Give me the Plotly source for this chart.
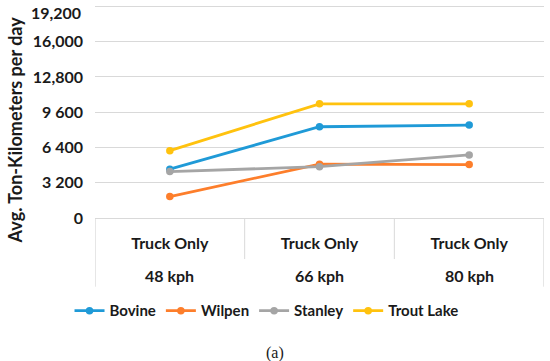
import plotly.graph_objects as go

speeds = ["48 kph", "66 kph", "80 kph"]
modes = ["Truck Only", "Truck Only", "Truck Only"]
series = {
    "Bovine": [4430, 8280, 8430],
    "Wilpen": [1950, 4880, 4850],
    "Stanley": [4210, 4660, 5720],
    "Trout Lake": [6110, 10360, 10360],
}
colors = {
    "Bovine": "#1f9ad7",
    "Wilpen": "#fd7e2b",
    "Stanley": "#a5a5a5",
    "Trout Lake": "#ffc20e",
}
yticks = [0, 3200, 6400, 9600, 12800, 16000, 19200]
yticklabels = ["0", "3 200", "6 400", "9 600", "12,800", "16,000", "19,200"]
ytitle = "Avg. Ton-Kilometers per day"
caption = "(a)"

xpos = list(range(len(speeds)))

fig = go.Figure()
for name, vals in series.items():
    fig.add_trace(go.Scatter(
        x=xpos, y=vals, name=name, mode="lines+markers",
        line=dict(color=colors[name], width=2.8),
        marker=dict(color=colors[name], size=7.5),
    ))

txt = "#1a1a1a"
bold = dict(family="Lato", size=16, color=txt, weight="bold")
fig.update_layout(
    width=550, height=361,
    margin=dict(l=95, r=6, t=1.6, b=142.7, autoexpand=False),
    paper_bgcolor="white", plot_bgcolor="white",
    font=bold,
    showlegend=True,
    legend=dict(orientation="h", x=0.382, xanchor="center", y=-0.43, yanchor="middle",
                font=dict(family="Lato", size=15, color=txt, weight="bold"),
                itemwidth=30, tracegroupgap=0),
)
fig.update_xaxes(
    range=[-0.5, 2.5], tickvals=xpos, ticktext=modes, showgrid=False, zeroline=False,
    showline=True, linecolor="#d9d9d9", linewidth=1, automargin=False,
    tickfont=bold, ticks="", ticklabelstandoff=11,
)
# top tick label is drawn below its gridline (as in the original), others on the axis
fig.update_yaxes(
    range=[0, 19600], tickvals=yticks, ticktext=yticklabels[:-1] + [""],
    showgrid=True, gridcolor="#d9d9d9", gridwidth=1, zeroline=False,
    showline=False, automargin=False, ticklabelstandoff=11,
    tickfont=bold,
)
fig.add_annotation(text=yticklabels[-1], xref="paper", yref="y", x=-0.0267, y=yticks[-1],
                   xanchor="right", yanchor="middle", yshift=-6.5, showarrow=False, font=bold)
# y-axis title
fig.add_annotation(text=ytitle, textangle=-90, xref="paper", yref="paper",
                   x=-0.178, y=0.406, xanchor="center", yanchor="middle", showarrow=False,
                   font=dict(family="Lato", size=18, color=txt, weight="bold"))
# outer category row
for xv, s in zip(xpos, speeds):
    fig.add_annotation(text=s, x=xv, xref="x", y=-0.268, yref="paper", yanchor="middle",
                       showarrow=False, font=bold)
# dividers
for b in [-0.499, 0.5, 1.5, 2.499]:
    edge = b < 0 or b > 2
    fig.add_shape(type="line", xref="x", yref="paper", x0=b, x1=b, y0=0,
                  y1=-0.318 if edge else -0.19, line=dict(color="#d9d9d9", width=1))
fig.add_annotation(text=caption, xref="paper", yref="paper", x=0.40, y=-0.625,
                   showarrow=False,
                   font=dict(family="Liberation Serif", size=16, color=txt, weight="normal"),
                   yanchor="middle")
fig.write_html("out.html", config={"displayModeBar": False},
               post_script="document.body.style.margin='0';")
